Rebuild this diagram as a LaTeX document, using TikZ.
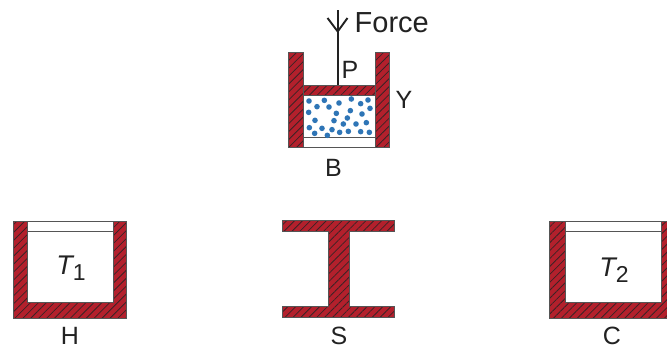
\documentclass[tikz,border=0pt]{standalone}
\usepackage{fontspec}
\setmainfont{Liberation Sans}
\usetikzlibrary{patterns.meta}
\definecolor{wallred}{HTML}{B3202C}
\definecolor{hatchdark}{HTML}{3B2326}
\definecolor{edgegray}{HTML}{555555}
\definecolor{dotblue}{HTML}{2E75B6}
\definecolor{inkdark}{HTML}{222222}
\tikzset{
  x=1pt,y=-1pt,
  wall/.style={fill=wallred,draw=none},
  hatchfill/.style={draw=edgegray,line width=0.9pt,line join=miter,
    pattern={Lines[angle=45,distance=5.6pt,line width=0.8pt]},pattern color=hatchdark},
  thinline/.style={draw=edgegray,line width=1pt},
  rodline/.style={draw=inkdark,line width=1.9pt},
  gasdot/.style={fill=dotblue,draw=none},
  lab/.style={font=\fontsize{25}{25}\selectfont,text=inkdark,inner sep=0pt},
  templab/.style={lab,font=\fontsize{27}{27}\selectfont\itshape},
}
\newcommand{\hatched}[1]{\fill[wall] #1; \path[hatchfill] #1;}
\newcommand{\subdigit}[1]{\raisebox{-6.5pt}{\fontsize{23}{23}\selectfont\upshape #1}}
\begin{document}
\begin{tikzpicture}
\useasboundingbox (0,0) rectangle (667,349);
\fill[white] (0,0) rectangle (667,349);
% piston
\hatched{(288.5,52.5) rectangle (303.5,147.5)}
\hatched{(375,52.5) rectangle (389.5,147.5)}
\hatched{(303.5,85) rectangle (375,95)}
\draw[thinline] (303.5,137.7) -- (375,137.7);
\draw[thinline] (303.5,147) -- (375,147);
\coordinate (rodtop) at (337.7,10);
\coordinate (rodbase) at (337.7,85);
\coordinate (tipL) at (327.5,18);
\coordinate (tipC) at (337.7,31.5);
\coordinate (tipR) at (347.5,18);
\draw[rodline] (rodtop) -- (rodbase);
\draw[rodline,line join=round] (tipL) -- (tipC) -- (tipR);
\foreach \a/\b in {117/303,163/301,207/309,244/297,272/311,294/300,141/320,177/321,300/325,116/337,241/332,199/340,276/342,232/354,135/361,192/362,220/372,258/372,289/368,118/383,156/385,186/389,134/400,172/406,209/397,235/394,272/395,298/397}
  \fill[gasdot] ({270+\a/3},{\b/3}) circle (2.8);
\node[lab,font=\fontsize{29}{29}\selectfont,anchor=west] (force) at (354.5,23) {Force};
\node[lab] (P) at (350,70) {P};
\node[lab] (Y) at (404,100) {Y};
\node[lab] (B) at (333.5,167.5) {B};
% hot reservoir
\hatched{(13,221.7) -- (27,221.7) -- (27,302.7) -- (113.3,302.7) -- (113.3,221.7) -- (126.5,221.7) -- (126.5,318.3) -- (13,318.3) -- cycle}
\draw[thinline] (27,221.7) -- (113.3,221.7);
\draw[thinline] (27,231) -- (113.3,231);
\node[templab] (T1) at (71,268) {T\subdigit{1}};
\node[lab] (H) at (70,336) {H};
% stand
\hatched{(282.7,220) -- (394,220) -- (394,231.7) -- (349.3,231.7) -- (349.3,306.7) -- (394,306.7) -- (394,317.3) -- (282.7,317.3) -- (282.7,306.7) -- (328.3,306.7) -- (328.3,231.7) -- (282.7,231.7) -- cycle}
\node[lab] (S) at (339,336) {S};
% cold reservoir
\hatched{(549.7,221.7) -- (565.3,221.7) -- (565.3,302.7) -- (661,302.7) -- (661,221.7) -- (672,221.7) -- (672,318.3) -- (549.7,318.3) -- cycle}
\draw[thinline] (565.3,221.7) -- (661,221.7);
\draw[thinline] (565.3,231) -- (661,231);
\node[templab] (T2) at (614,270) {T\subdigit{2}};
\node[lab] (C) at (612,336) {C};
\end{tikzpicture}
\end{document}
